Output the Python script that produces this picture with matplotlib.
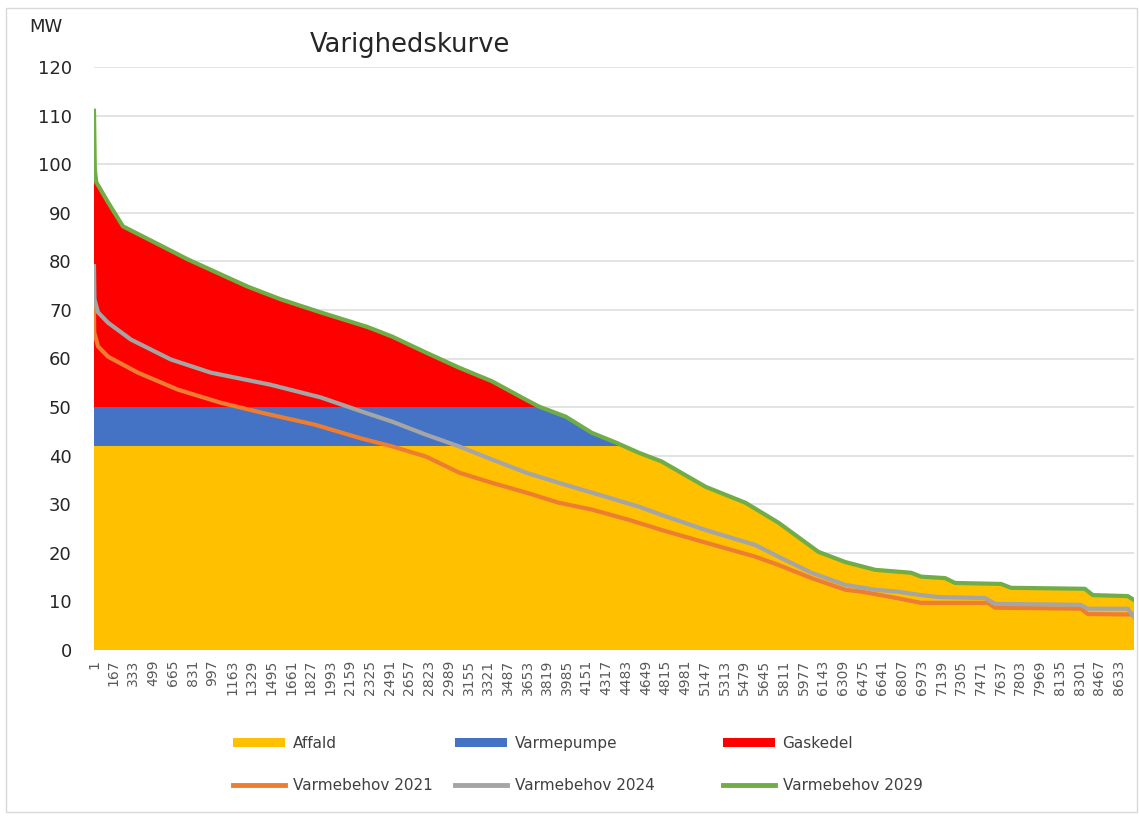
import matplotlib
matplotlib.use("Agg")
import matplotlib.pyplot as plt
import matplotlib.patches as mpatches
from matplotlib.lines import Line2D
import numpy as np

# Varmebehov (MW), hours sorted by load
hours_2029 = [1, 8, 20, 118, 245, 511, 791, 1295, 1572, 1909, 2303, 2513, 2799, 3077, 3354,
              3640, 3749, 3976, 4194, 4396, 4590, 4782, 5152, 5488, 5766, 6102, 6329, 6581,
              6883, 6967, 7169, 7253, 7640, 7724, 8346, 8413, 8707, 8760]
mw_2029 = [111, 99, 96.3, 92.2, 87.2, 83.9, 80.4, 74.8, 72.2, 69.5, 66.5, 64.5, 61.2, 58.1, 55.3,
           51.5, 50.1, 48, 44.7, 42.7, 40.6, 38.8, 33.6, 30.3, 26.2, 20.2, 18.1, 16.5,
           15.9, 15.1, 14.8, 13.8, 13.6, 12.8, 12.6, 11.3, 11.1, 10.3]

hours_2024 = [1, 5, 35, 118, 312, 648, 984, 1488, 1909, 2303, 2513, 2799, 3077, 3354, 3640,
              3917, 4194, 4590, 4782, 5152, 5572, 5766, 6043, 6329, 6581, 6774, 6967, 7110,
              7505, 7589, 8312, 8371, 8707, 8760]
mw_2024 = [79, 72.2, 69.5, 67.4, 63.9, 59.8, 57.1, 54.6, 52, 48.7, 47, 44.3, 41.9, 39.2, 36.5,
           34.4, 32.4, 29.5, 27.8, 24.7, 21.6, 19.2, 15.9, 13.4, 12.4, 12, 11.3, 10.9,
           10.7, 9.5, 9.3, 8.5, 8.5, 6.8]

hours_2021 = [1, 3, 35, 118, 370, 707, 1068, 1404, 1858, 2244, 2513, 2799, 3077, 3354, 3640,
              3917, 4194, 4505, 4782, 5152, 5572, 5766, 6043, 6329, 6464, 6716, 6967, 7530,
              7589, 8312, 8371, 8760]
mw_2021 = [70.5, 65.4, 62.5, 60.4, 57.1, 53.6, 50.9, 48.9, 46.4, 43.6, 41.9, 39.8, 36.5, 34.4, 32.4,
           30.3, 28.9, 26.8, 24.7, 22.1, 19.2, 17.5, 14.8, 12.4, 12, 10.9, 9.7, 9.7,
           8.7, 8.5, 7.4, 7.3]

# produktion: affald op til 42 MW, varmepumpe de naeste 8 MW, gaskedel resten
band_names = ['Affald', 'Varmepumpe', 'Gaskedel']
band_limits = [(0, 42), (42, 50), (50, 120)]
band_colors = ['#FFC000', '#4472C4', '#FF0000']

line_names = ['Varmebehov 2021', 'Varmebehov 2024', 'Varmebehov 2029']
line_colors = ['#ED7D31', '#A5A5A5', '#70AD47']

tick_hours = list(range(1, 8761, 166))
y_ticks = list(range(0, 121, 10))

fig = plt.figure(figsize=(11.39, 8.16), dpi=100)
W, H = 1139, 816
ax = fig.add_axes([94 / W, 1 - 650 / H, (1134 - 94) / W, (650 - 67) / H])

# area under the 2029 curve, used to clip the production bands
under = ax.fill_between(hours_2029, 0, mw_2029, color='none', lw=0)
clip = under.get_paths()[0]
for (lo, hi), c in zip(band_limits, band_colors):
    band = ax.axhspan(lo, hi, color=c, lw=0, zorder=1)
    band.set_clip_path(clip, ax.transData)

ax.plot(hours_2021, mw_2021, color=line_colors[0], lw=3, zorder=3)
ax.plot(hours_2024, mw_2024, color=line_colors[1], lw=3, zorder=4)
ax.plot(hours_2029, mw_2029, color=line_colors[2], lw=3, zorder=5)

ax.set_xlim(1, 8760)
ax.set_ylim(0, 120)
ax.set_yticks(y_ticks)
ax.set_xticks(tick_hours)
ax.set_xticklabels([str(t) for t in tick_hours], rotation=90)
ax.grid(axis='y', color='#DEDEDE', lw=1.2, zorder=0)
ax.set_axisbelow(True)
for s in ax.spines.values():
    s.set_visible(False)
ax.tick_params(axis='y', length=0, pad=16, labelsize=13, labelcolor='#262626')
ax.tick_params(axis='x', length=0, pad=7, labelsize=10, labelcolor='#595959')

fig.text(29 / W, 1 - 27 / H, 'MW', fontsize=13, color='#262626', va='center')
fig.text(310 / W, 1 - 45 / H, 'Varighedskurve', fontsize=18.5, color='#262626', va='center')

fig.patches.append(mpatches.Rectangle((6 / W, 4 / H), 1131 / W, 804 / H, transform=fig.transFigure,
                                      fill=False, edgecolor='#D9D9D9', lw=1))

# legend: three columns, area on top, line below
col_x = [233, 455, 723]
for i in range(3):
    handles = [mpatches.Patch(color=band_colors[i], lw=0),
               Line2D([], [], color=line_colors[i], lw=3.5)]
    fig.legend(handles, [band_names[i], line_names[i]], loc='upper left',
               bbox_to_anchor=(col_x[i] / W, 1 - 736 / H), frameon=False,
               borderpad=0, borderaxespad=0, fontsize=11, labelcolor='#404040',
               handlelength=3.4, handleheight=0.6, handletextpad=0.5, labelspacing=1.75)

fig.savefig('out.png', dpi=100)
